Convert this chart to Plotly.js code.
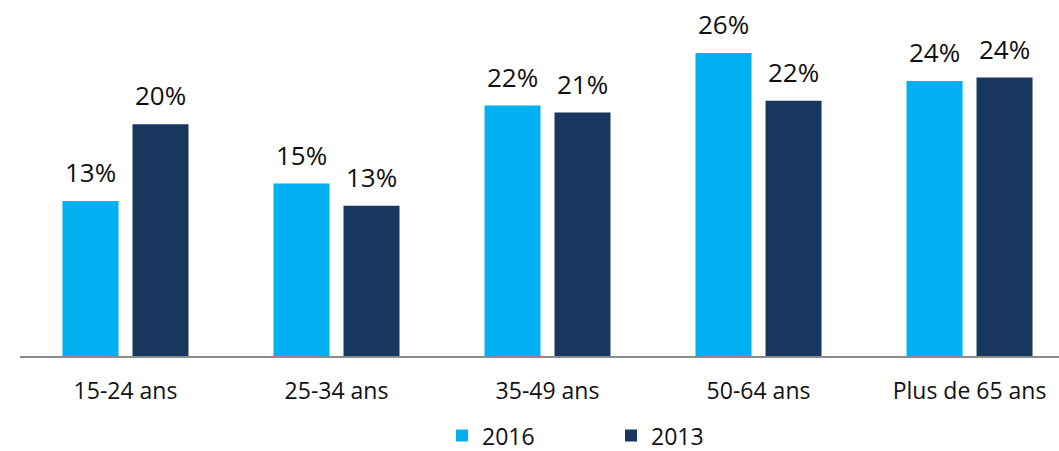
<!DOCTYPE html>
<html>
<head>
<meta charset="utf-8">
<script src="https://cdn.plot.ly/plotly-3.0.1.min.js"></script>
<style>html,body{margin:0;padding:0;background:#fff;}#chart{width:1059px;height:451px;}</style>
</head>
<body>
<div id="chart"></div>
<script>
var categories = ["15-24 ans", "25-34 ans", "35-49 ans", "50-64 ans", "Plus de 65 ans"];
var values2016 = [13.3, 14.8, 21.5, 26.0, 23.6];
var values2013 = [19.9, 12.9, 20.9, 21.9, 23.9];
var seriesNames = ["2016", "2013"];
var colors = ["#00B0F0", "#17375E"];

var FONT = "Open Sans, sans-serif";
var series = [values2016, values2013];
var traces = series.map(function (vals, i) {
  return {
    type: "bar",
    name: seriesNames[i],
    x: categories,
    y: vals,
    marker: { color: colors[i] },
    hoverinfo: "none"
  };
});

var annotations = [];
series.forEach(function (vals, i) {
  vals.forEach(function (v, j) {
    annotations.push({
      x: categories[j], y: v, xref: "x", yref: "y",
      text: Math.round(v) + "%",
      showarrow: false,
      xshift: i === 0 ? -35 : 35,
      yanchor: "bottom", yshift: 9,
      font: { family: FONT, size: 26, color: "#111" }
    });
  });
});

var layout = {
  width: 1059, height: 451,
  margin: { l: 20, r: 0, t: 20, b: 95 },
  paper_bgcolor: "#fff", plot_bgcolor: "#fff",
  barmode: "group", bargap: 0.3365, bargroupgap: 0.2,
  showlegend: true,
  legend: {
    orientation: "h", xref: "container", yref: "container",
    x: 0.4174, xanchor: "left", y: 0.034, yanchor: "middle",
    entrywidth: 124, entrywidthmode: "pixels",
    font: { family: FONT, size: 23, color: "#111" },
    traceorder: "normal"
  },
  xaxis: {
    range: [-0.5, 4.424],
    showgrid: false, zeroline: false,
    showline: true, linecolor: "#8c8c8c", linewidth: 2,
    ticks: "", ticklabelstandoff: 13,
    tickfont: { family: FONT, size: 23, color: "#111" }
  },
  yaxis: {
    range: [0, 28.84], visible: false, showgrid: false, zeroline: false
  },
  annotations: annotations
};

Plotly.newPlot("chart", traces, layout, { displayModeBar: false, staticPlot: true });
</script>
</body>
</html>
